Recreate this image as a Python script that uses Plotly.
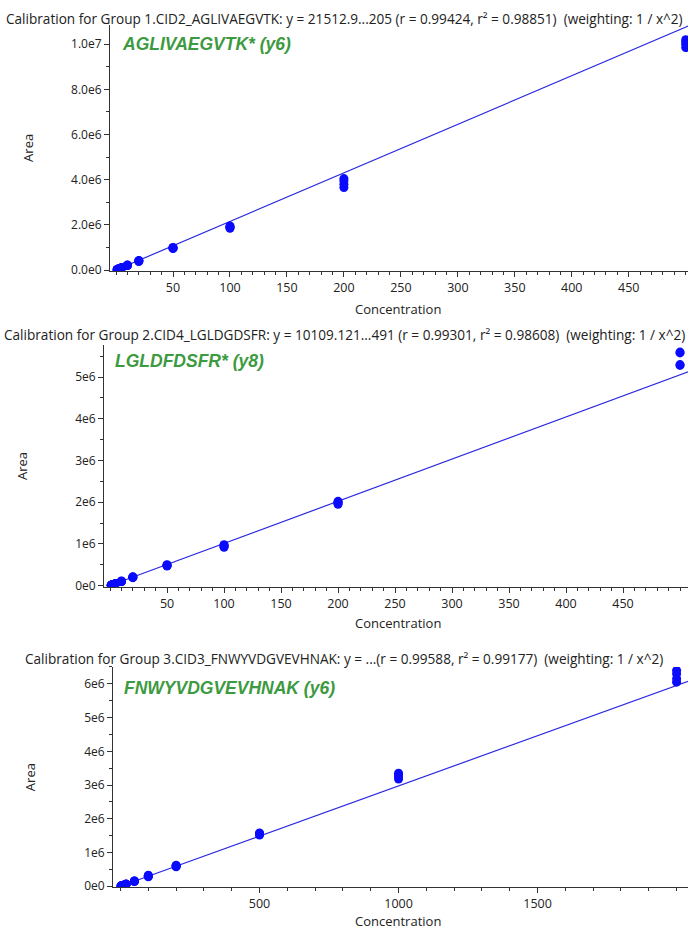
import plotly.graph_objects as go

W, H = 688, 934

# ---------------- data ----------------
titles = [
    "Calibration for Group 1.CID2_AGLIVAEGVTK: y = 21512.9...205 (r = 0.99424, r² = 0.98851)  (weighting: 1 / x^2)",
    "Calibration for Group 2.CID4_LGLDGDSFR: y = 10109.121...491 (r = 0.99301, r² = 0.98608)  (weighting: 1 / x^2)",
    "Calibration for Group 3.CID3_FNWYVDGVEVHNAK: y = ...(r = 0.99588, r² = 0.99177)  (weighting: 1 / x^2)",
]
peptides = ["AGLIVAEGVTK* (y6)", "LGLDFDSFR* (y8)", "FNWYVDGVEVHNAK (y6)"]

conc1 = [1]*4 + [2]*4 + [5]*4 + [10]*4 + [20]*4 + [50]*4 + [100]*4 + [200]*4 + [500]*4
area1 = [0.020e6, 0.022e6, 0.021e6, 0.023e6,
         0.043e6, 0.045e6, 0.041e6, 0.044e6,
         0.105e6, 0.110e6, 0.100e6, 0.108e6,
         0.21e6, 0.22e6, 0.20e6, 0.215e6,
         0.40e6, 0.42e6, 0.38e6, 0.41e6,
         0.95e6, 1.00e6, 0.97e6, 0.99e6,
         1.85e6, 1.90e6, 1.95e6, 1.92e6,
         3.65e6, 3.80e6, 3.95e6, 4.05e6,
         9.85e6, 10.0e6, 10.1e6, 10.2e6]
slope1, icpt1 = 21512.9, 205.0

conc2 = [1]*4 + [2]*4 + [5]*4 + [10]*4 + [20]*4 + [50]*4 + [100]*4 + [200]*4 + [500]*4
area2 = [0.010e6, 0.011e6, 0.009e6, 0.010e6,
         0.020e6, 0.021e6, 0.019e6, 0.020e6,
         0.050e6, 0.052e6, 0.048e6, 0.051e6,
         0.10e6, 0.11e6, 0.09e6, 0.105e6,
         0.20e6, 0.21e6, 0.19e6, 0.205e6,
         0.47e6, 0.49e6, 0.50e6, 0.48e6,
         0.92e6, 0.95e6, 0.98e6, 0.96e6,
         1.95e6, 1.98e6, 2.02e6, 2.00e6,
         5.28e6, 5.30e6, 5.58e6, 5.60e6]
slope2, icpt2 = 10109.121, 491.0

conc3 = [2]*4 + [5]*4 + [10]*4 + [20]*4 + [50]*4 + [100]*4 + [200]*4 + [500]*4 + [1000]*4 + [2000]*4
area3 = [0.006e6, 0.007e6, 0.006e6, 0.007e6,
         0.015e6, 0.016e6, 0.014e6, 0.015e6,
         0.03e6, 0.032e6, 0.029e6, 0.031e6,
         0.06e6, 0.065e6, 0.058e6, 0.062e6,
         0.15e6, 0.16e6, 0.14e6, 0.155e6,
         0.28e6, 0.30e6, 0.33e6, 0.31e6,
         0.58e6, 0.60e6, 0.62e6, 0.61e6,
         1.52e6, 1.55e6, 1.58e6, 1.56e6,
         3.18e6, 3.25e6, 3.30e6, 3.35e6,
         6.05e6, 6.15e6, 6.30e6, 6.40e6]
slope3, icpt3 = 2975.0, 0.0

ytick_vals1 = [0, 2e6, 4e6, 6e6, 8e6, 1e7]
ytick_text1 = ["0.0e0", "2.0e6", "4.0e6", "6.0e6", "8.0e6", "1.0e7"]
ytick_vals2 = [0, 1e6, 2e6, 3e6, 4e6, 5e6]
ytick_text2 = ["0e0", "1e6", "2e6", "3e6", "4e6", "5e6"]
ytick_vals3 = [0, 1e6, 2e6, 3e6, 4e6, 5e6, 6e6]
ytick_text3 = ["0e0", "1e6", "2e6", "3e6", "4e6", "5e6", "6e6"]
xtick_vals12 = [50, 100, 150, 200, 250, 300, 350, 400, 450]
xtick_vals3 = [500, 1000, 1500]

# ---------------- layout helpers ----------------
def px_x(p):
    return p / W

def px_y(p):
    return 1 - p / H

FONT = "Open Sans, DejaVu Sans, sans-serif"
LFONT = "Liberation Sans, Arial, sans-serif"
TXT = "#222222"
GREEN = "#3c9a40"
BLUE = "#0a0aff"
LINE = "#2a2ae0"

panels = [
    dict(conc=conc1, area=area1, slope=slope1, icpt=icpt1,
         xdom=(110, 688), ydom=(273, 25), xr=(-5.3, 502), yr=(-0.04e6, 10.86e6),
         xt=xtick_vals12, xminor=10, yt=ytick_vals1, ytt=ytick_text1, yminor=1e6,
         title_y=18.5, xlab_y=311, ylab_x=28, lab=(120, 44)),
    dict(conc=conc2, area=area2, slope=slope2, icpt=icpt2,
         xdom=(104, 688), ydom=(591, 348), xr=(-5.3, 507), yr=(-0.024e6, 5.76e6),
         xt=xtick_vals12, xminor=10, yt=ytick_vals2, ytt=ytick_text2, yminor=0.5e6,
         title_y=337, xlab_y=628, ylab_x=22, lab=(113, 364)),
    dict(conc=conc3, area=area3, slope=slope3, icpt=icpt3,
         xdom=(113, 688), ydom=(894, 672), xr=(-27, 2041), yr=(-0.03e6, 6.5e6),
         xt=xtick_vals3, xminor=100, yt=ytick_vals3, ytt=ytick_text3, yminor=0.5e6,
         title_y=663, xlab_y=927.5, ylab_x=30, lab=(122, 693)),
]

fig = go.Figure()
annotations = []
layout = dict(
    width=W, height=H, margin=dict(l=0, r=0, t=0, b=0),
    paper_bgcolor="white", plot_bgcolor="white", showlegend=False,
    font=dict(family=FONT, size=11, color=TXT),
)

for i, p in enumerate(panels):
    n = "" if i == 0 else str(i + 1)
    xa, ya = "x" + n, "y" + n
    lx = [0, max(p["conc"]) * 1.05]
    ly = [p["slope"] * v + p["icpt"] for v in lx]
    fig.add_trace(go.Scatter(x=lx, y=ly, mode="lines", xaxis=xa, yaxis=ya,
                             line=dict(color=LINE, width=1.2), hoverinfo="skip"))
    fig.add_trace(go.Scatter(x=p["conc"], y=p["area"], mode="markers", xaxis=xa, yaxis=ya,
                             marker=dict(color=BLUE, size=9, line=dict(width=0)),
                             cliponaxis=True))
    layout["xaxis" + n] = dict(
        domain=[px_x(p["xdom"][0]), px_x(p["xdom"][1])], range=list(p["xr"]),
        anchor=ya, showgrid=False, zeroline=False, showline=True, linecolor="#333333",
        linewidth=1, ticks="outside", ticklen=5, tickcolor="#333333",
        tickvals=p["xt"], tickfont=dict(size=12.5, family=FONT, color=TXT),
        minor=dict(ticks="outside", ticklen=3, dtick=p["xminor"], tick0=0,
                   tickcolor="#333333", showgrid=False),
    )
    layout["yaxis" + n] = dict(
        domain=[px_y(p["ydom"][0]), px_y(p["ydom"][1])], range=list(p["yr"]),
        anchor=xa, showgrid=False, zeroline=False, showline=True, linecolor="#333333",
        linewidth=1, ticks="outside", ticklen=5, tickcolor="#333333",
        tickvals=p["yt"], ticktext=p["ytt"], tickfont=dict(size=12, family=FONT, color=TXT),
        minor=dict(ticks="outside", ticklen=3, dtick=p["yminor"], tick0=0,
                   tickcolor="#333333", showgrid=False),
    )
    annotations.append(dict(text=titles[i], x=px_x(344), y=px_y(p["title_y"]),
                            xref="paper", yref="paper",
                            showarrow=False, xanchor="center", yanchor="middle",
                            font=dict(size=13.6, family=FONT, color=TXT)))
    annotations.append(dict(text="<b><i>" + peptides[i] + "</i></b>",
                            x=px_x(p["lab"][0]), y=px_y(p["lab"][1]),
                            xref="paper", yref="paper", showarrow=False,
                            xanchor="left", yanchor="middle",
                            font=dict(size=17.5, family=LFONT, color=GREEN)))
    annotations.append(dict(text="Concentration", x=px_x(398), y=px_y(p["xlab_y"]),
                            xref="paper", yref="paper", showarrow=False,
                            xanchor="center", yanchor="middle",
                            font=dict(size=13, family=FONT, color=TXT)))
    annotations.append(dict(text="Area", x=px_x(p["ylab_x"]),
                            y=px_y((p["ydom"][0] + p["ydom"][1]) / 2),
                            xref="paper", yref="paper", showarrow=False, textangle=-90,
                            xanchor="center", yanchor="middle",
                            font=dict(size=13, family=FONT, color=TXT)))

layout["annotations"] = annotations
fig.update_layout(**layout)
fig.write_html("out.html", config={"displayModeBar": False},
               post_script="document.body.style.margin='0px';document.body.style.overflow='hidden';")
